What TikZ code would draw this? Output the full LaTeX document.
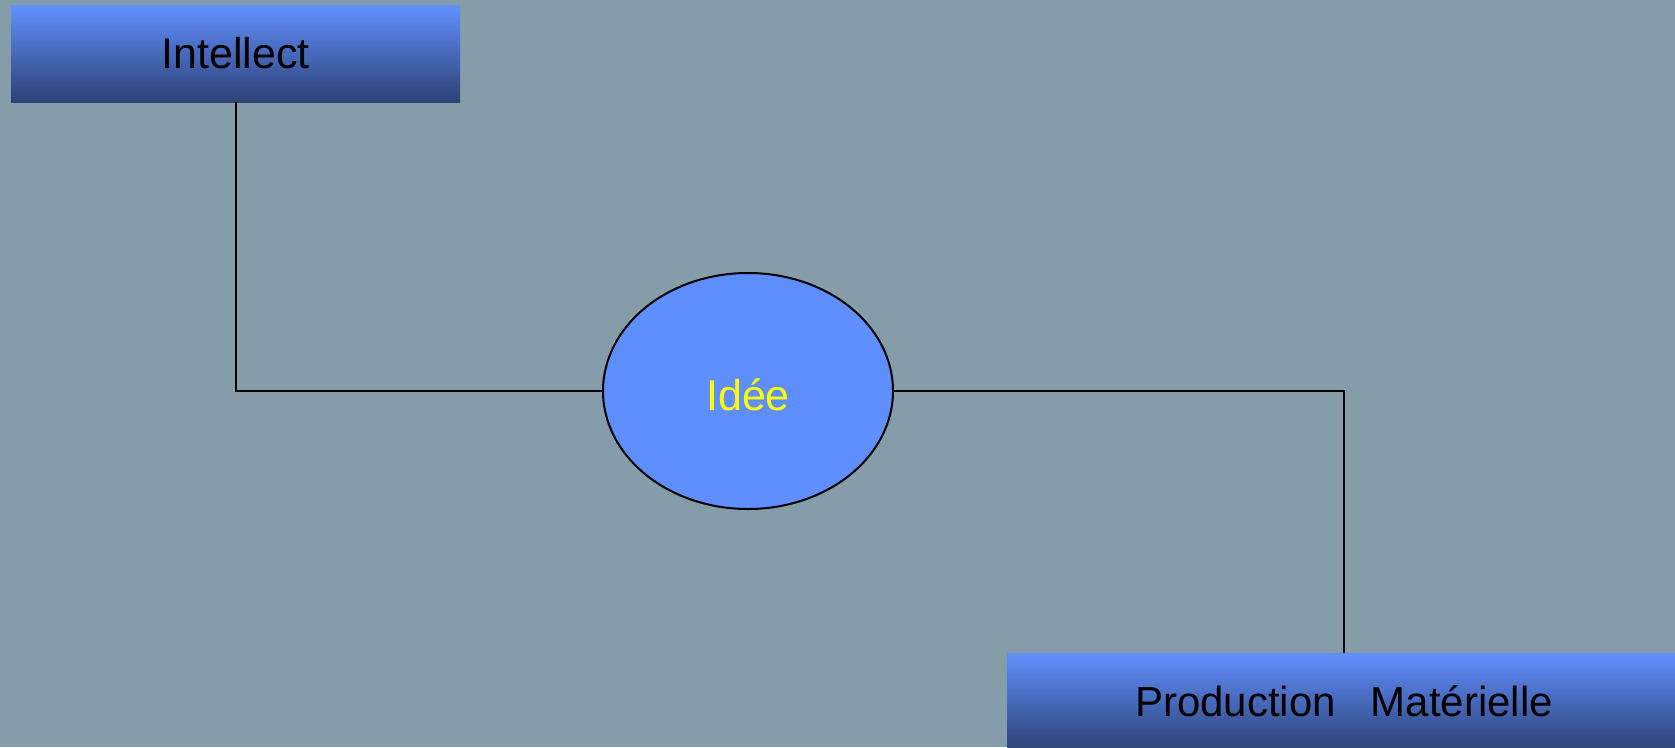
\documentclass[tikz,border=0pt]{standalone}
\usepackage{fontspec}
\setmainfont{Liberation Sans}
\usepackage{tikz}
\usetikzlibrary{positioning,shapes.geometric}

\definecolor{bgslate}{HTML}{849DA8}
\definecolor{boxtop}{HTML}{6190FF}
\definecolor{boxbot}{HTML}{2D4275}
\definecolor{ovalblue}{HTML}{5F8EFF}
\definecolor{ideeyellow}{HTML}{FFFF00}

\begin{document}
\begin{tikzpicture}[x=1pt,y=-1pt,
  barnode/.style={rectangle,top color=boxtop,bottom color=boxbot,shading angle=0,inner sep=0pt,minimum height=97pt,font=\fontsize{43}{50}\selectfont,text=black},
  ovalnode/.style={ellipse,draw,line width=2pt,fill=ovalblue,inner sep=0pt,minimum width=290pt,minimum height=236pt,font=\fontsize{43}{50}\selectfont,text=ideeyellow},
  link/.style={line width=2pt,black},
]

% ==== BACKGROUND ====
\fill[bgslate] (0,0) rectangle (1675,747);
\useasboundingbox (0,0) rectangle (1675,747);

% ==== NODES ====
\node[barnode,minimum width=449pt] (intellect) at (235.5,53.5) {Intellect};
\node[ovalnode] (idee) at (748,391) {\raisebox{-4pt}[\height][\depth]{Idée}};
\node[barnode,minimum width=674pt,font=\fontsize{42}{50}\selectfont] (production) at (1344,701.5) {Production\ \ \ Matérielle};

% ==== LINKS ====
\draw[link] (intellect.south) |- (idee.west);
\draw[link] (idee.east) -| (production.north);

\end{tikzpicture}
\end{document}
